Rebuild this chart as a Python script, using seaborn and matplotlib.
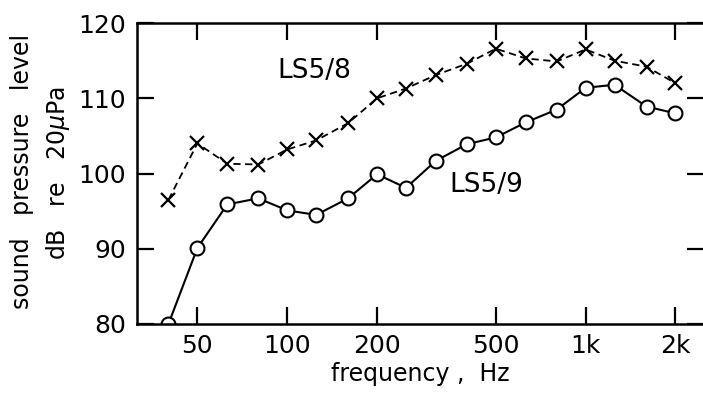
import matplotlib
matplotlib.use("Agg")
import matplotlib.pyplot as plt
import seaborn as sns
import pandas as pd
import numpy as np

# third-octave band centre frequencies, Hz
freq = [40, 50, 63, 80, 100, 125, 160, 200, 250, 315, 400, 500, 630, 800, 1000, 1250, 1600, 2000]
ls58 = [96.5, 104.0, 101.3, 101.2, 103.2, 104.4, 106.7, 110.0, 111.3, 113.1, 114.6, 116.6, 115.3, 114.9, 116.5, 115.0, 114.2, 112.0]
ls59 = [80.0, 90.1, 95.9, 96.7, 95.1, 94.5, 96.7, 99.9, 98.1, 101.7, 103.9, 104.8, 106.8, 108.5, 111.4, 111.8, 108.9, 108.0]

xticks = [50, 100, 200, 500, 1000, 2000]
xticklabels = ['50', '100', '200', '500', '1k', '2k']
yticks = [80, 90, 100, 110, 120]

df = pd.DataFrame({'freq': freq * 2,
                   'spl': ls58 + ls59,
                   'model': ['LS5/8'] * len(freq) + ['LS5/9'] * len(freq)})

sns.set_style("ticks")
plt.rcParams['font.family'] = ['DejaVu Sans']
plt.rcParams.update({'text.color': 'black', 'axes.edgecolor': 'black',
                     'xtick.color': 'black', 'ytick.color': 'black',
                     'axes.labelcolor': 'black'})

fig = plt.figure(figsize=(7.03, 3.98), dpi=100)
ax = fig.add_axes([0.195, 0.186, 0.807, 0.756])

sns.lineplot(data=df[df.model == 'LS5/8'], x='freq', y='spl', ax=ax,
             color='black', lw=1.3, linestyle=(0, (4, 2.5)), marker='x',
             markersize=9.5, markeredgewidth=1.6, markeredgecolor='black')
sns.lineplot(data=df[df.model == 'LS5/9'], x='freq', y='spl', ax=ax,
             color='black', lw=1.5, marker='o', markersize=10,
             markerfacecolor='white', markeredgecolor='black', markeredgewidth=1.5)

ax.set_xscale('log')
ax.set_xlim(31.4, 2500)
ax.set_ylim(80, 120)
ax.set_xticks(xticks)
ax.set_xticklabels(xticklabels)
ax.minorticks_off()
ax.set_yticks(yticks)

ax.tick_params(axis='both', direction='in', length=12, width=1.6, labelsize=18,
               top=True, right=True)
ax.tick_params(axis='y', pad=8)
ax.tick_params(axis='x', pad=7)
for s in ax.spines.values():
    s.set_linewidth(1.8)

ax.set_xlabel('frequency ,  Hz', fontsize=17, labelpad=3)
ax.set_ylabel('')

fig.text(0.031, 0.57, 'sound   pressure   level', rotation=90, fontsize=17,
         ha='center', va='center')
fig.text(0.082, 0.565, 'dB   re   20$\\mu$Pa', rotation=90, fontsize=17,
         ha='center', va='center')

ax.text(93, 113.6, 'LS5/8', fontsize=19, ha='left', va='center')
ax.text(350, 98.5, 'LS5/9', fontsize=19, ha='left', va='center')

fig.savefig('out.png', dpi=100)
